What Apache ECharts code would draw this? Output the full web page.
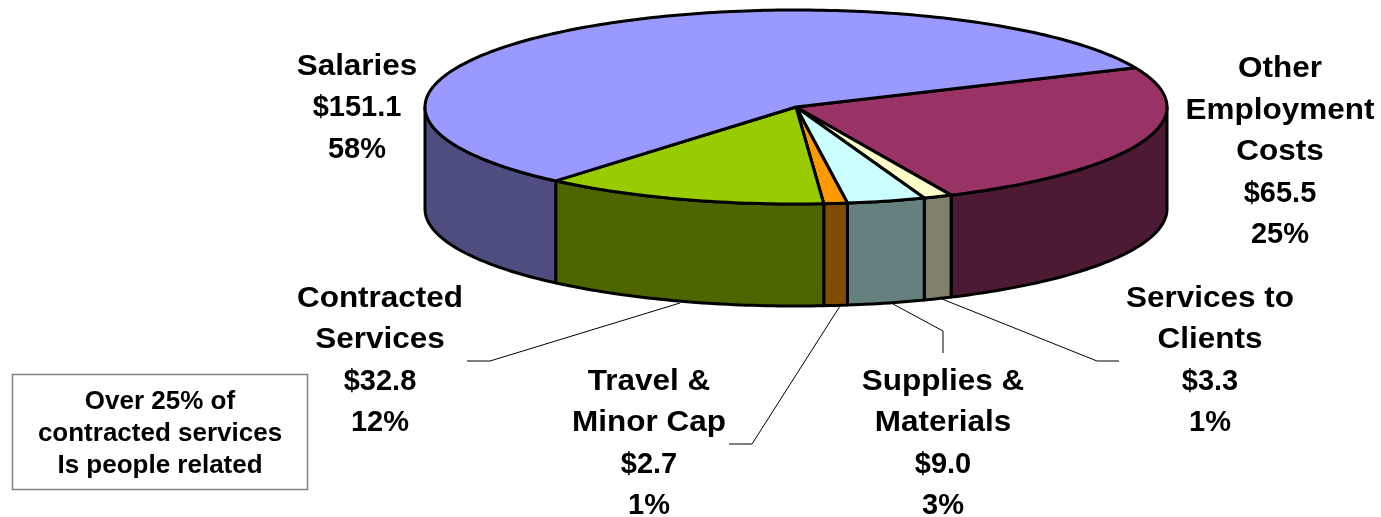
<!DOCTYPE html>
<html>
<head>
<meta charset="utf-8">
<style>
html, body { margin: 0; padding: 0; background: #fff; }
#chart { width: 1381px; height: 517px; }
</style>
<script src="https://cdn.jsdelivr.net/npm/echarts@6/dist/echarts.min.js"></script>
</head>
<body>
<div id="chart"></div>
<script>
// slices run clockwise from Other Employment Costs
var categories = ["Other\nEmployment\nCosts", "Services to\nClients", "Supplies &\nMaterials", "Travel &\nMinor Cap", "Contracted\nServices", "Salaries"];
var amounts = [65.5, 3.3, 9.0, 2.7, 32.8, 151.1];
var percents = [25, 1, 3, 1, 12, 58];
var topColors = ["#993366", "#FFFFCC", "#CCFFFF", "#FF9900", "#99CC00", "#9999FF"];
var sideColors = ["#4D1A33", "#80806B", "#668080", "#804D00", "#4D6600", "#4D4D80"];

// pie layout
var cx = 796, cy = 107, rx = 371, ry = 97, depth = 102;
var startDeg = -23.9;

// label centres and leader lines, same order as categories
var labelPos = [[1280, 152], [1210, 361], [943, 444], [649, 444], [380, 361], [357, 108]];
var lineGap = 41.5;
var wordStretch = 1.085; // the original label words are set wider than the font
var leaders = [
    null,
    [[1119, 361], [1097, 361], [942, 299]],
    [[943, 353], [943, 331], [893, 304]],
    [[729, 444], [752, 444], [840, 306]],
    [[467, 361], [490, 361], [680, 303]],
    null
];

var total = amounts.reduce(function (a, b) { return a + b; }, 0);

function arc(a0, a1, dy) {
    var pts = [];
    var n = Math.max(2, Math.ceil(Math.abs(a1 - a0)));
    for (var i = 0; i <= n; i++) {
        var t = (a0 + (a1 - a0) * i / n) * Math.PI / 180;
        pts.push([cx + rx * Math.cos(t), cy + ry * Math.sin(t) + dy]);
    }
    return pts;
}

function renderSlice(params, api) {
    var idx = params.dataIndex;
    var before = 0;
    for (var i = 0; i < idx; i++) before += amounts[i];
    var a0 = startDeg + before / total * 360;
    var a1 = a0 + api.value(0) / total * 360;
    var children = [];
    // side wall only on the front half
    var s0 = Math.max(a0, 0), s1 = Math.min(a1, 180);
    if (s1 > s0) {
        children.push({
            type: "polygon",
            shape: { points: arc(s0, s1, 0).concat(arc(s0, s1, depth).reverse()) },
            style: { fill: sideColors[idx], stroke: "#000", lineWidth: 3, lineJoin: "round" }
        });
    }
    children.push({
        type: "polygon",
        shape: { points: [[cx, cy]].concat(arc(a0, a1, 0)) },
        style: { fill: topColors[idx], stroke: "#000", lineWidth: 3, lineJoin: "round" }
    });
    return { type: "group", children: children };
}

function renderLabel(params) {
    var idx = params.dataIndex;
    var words = categories[idx].split("\n");
    var lines = words.concat(["$" + amounts[idx].toFixed(1), percents[idx] + "%"]);
    var children = lines.map(function (line, i) {
        return {
            type: "text",
            x: labelPos[idx][0],
            y: labelPos[idx][1] + (i - (lines.length - 1) / 2) * lineGap,
            scaleX: i < words.length ? wordStretch : 1,
            style: {
                text: line, fill: "#000", font: "bold 29px 'Liberation Sans'",
                align: "center", verticalAlign: "middle"
            }
        };
    });
    if (leaders[idx]) {
        children.push({
            type: "polyline",
            shape: { points: leaders[idx] },
            style: { fill: "none", stroke: "#000", lineWidth: 1 }
        });
    }
    return { type: "group", children: children };
}

var myChart = echarts.init(document.getElementById("chart"));
myChart.setOption({
    animation: false,
    backgroundColor: "#fff",
    series: [
        {
            type: "custom",
            coordinateSystem: "none",
            renderItem: renderSlice,
            data: amounts.map(function (v) { return [v]; })
        },
        {
            type: "custom",
            coordinateSystem: "none",
            renderItem: renderLabel,
            data: amounts.map(function (v) { return [v]; })
        }
    ],
    graphic: [
        {
            type: "rect",
            shape: { x: 12.5, y: 374.5, width: 295, height: 115 },
            style: { fill: "#fff", stroke: "#808080", lineWidth: 1.5 }
        },
        {
            type: "text",
            style: {
                x: 160, y: 434,
                text: "Over 25% of\ncontracted services\nIs people related",
                fill: "#000", font: "bold 26px 'Liberation Sans'",
                lineHeight: 32, align: "center", verticalAlign: "middle"
            }
        }
    ]
});
</script>
</body>
</html>
